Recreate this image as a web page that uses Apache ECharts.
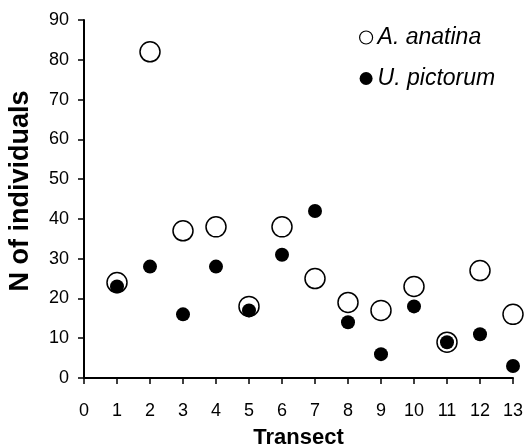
<!DOCTYPE html>
<html>
<head>
<meta charset="utf-8">
<script src="https://cdn.jsdelivr.net/npm/echarts@6/dist/echarts.min.js"></script>
<style>
  html, body { margin: 0; padding: 0; background: #fff; }
  #chart { width: 524px; height: 448px; }
</style>
</head>
<body>
<div id="chart"></div>
<script>
// Transect numbers and counts
const transects = [1, 2, 3, 4, 5, 6, 7, 8, 9, 10, 11, 12, 13];
const anatina = [24, 82, 37, 38, 18, 38, 25, 19, 17, 23, 9, 27, 16];
const pictorum = [23, 28, 16, 28, 17, 31, 42, 14, 6, 18, 9, 11, 3];

const FONT = '"Liberation Sans", Arial, sans-serif';

const chart = echarts.init(document.getElementById('chart'), null, { renderer: 'canvas' });

const option = {
    backgroundColor: '#fff',
    animation: false,
    grid: { left: 84, right: 11, top: 20, bottom: 70, containLabel: false, outerBoundsMode: 'none' },
    legend: {
        orient: 'vertical',
        left: 354,
        top: 21,
        itemWidth: 13,
        itemHeight: 13,
        itemGap: 18,
        textStyle: { color: '#000', fontSize: 23, fontStyle: 'italic', fontFamily: FONT, padding: [0, 0, 0, 0] },
        data: [
            { name: 'A. anatina', icon: 'circle', itemStyle: { color: '#fff', borderColor: '#000', borderWidth: 1.2 } },
            { name: 'U. pictorum', icon: 'circle', itemStyle: { color: '#000', borderWidth: 0 } }
        ]
    },
    xAxis: {
        type: 'value',
        min: 0,
        max: 13,
        interval: 1,
        name: 'Transect',
        nameLocation: 'middle',
        nameGap: 49,
        nameTextStyle: { color: '#000', fontSize: 22, fontWeight: 'bold', fontFamily: FONT },
        axisLine: { show: true, onZero: false, lineStyle: { color: '#000', width: 2 } },
        axisTick: { show: true, inside: false, length: 6, lineStyle: { color: '#000', width: 1.5 } },
        splitLine: { show: false },
        axisLabel: { show: true, color: '#000', fontSize: 18, fontFamily: FONT, margin: 24 }
    },
    yAxis: {
        type: 'value',
        min: 0,
        max: 90,
        interval: 10,
        name: 'N of individuals',
        nameLocation: 'middle',
        nameGap: 50,
        nameTextStyle: { color: '#000', fontSize: 27, fontWeight: 'bold', fontFamily: FONT, padding: [0, 0, 0, 16] },
        axisLine: { show: true, onZero: false, lineStyle: { color: '#000', width: 2 } },
        axisTick: { show: true, inside: false, length: 6, lineStyle: { color: '#000', width: 1.5 } },
        splitLine: { show: false },
        axisLabel: { show: true, color: '#000', fontSize: 18, fontFamily: FONT, margin: 15 }
    },
    series: [
        {
            name: 'A. anatina',
            type: 'scatter',
            symbol: 'circle',
            symbolSize: 20,
            itemStyle: { color: '#fff', borderColor: '#000', borderWidth: 1.5, opacity: 1 },
            data: transects.map((t, i) => [t, anatina[i]]),
            z: 2
        },
        {
            name: 'U. pictorum',
            type: 'scatter',
            symbol: 'circle',
            symbolSize: 14,
            itemStyle: { color: '#000', opacity: 1 },
            data: transects.map((t, i) => [t, pictorum[i]]),
            z: 3
        }
    ]
};

chart.setOption(option);
</script>
</body>
</html>
